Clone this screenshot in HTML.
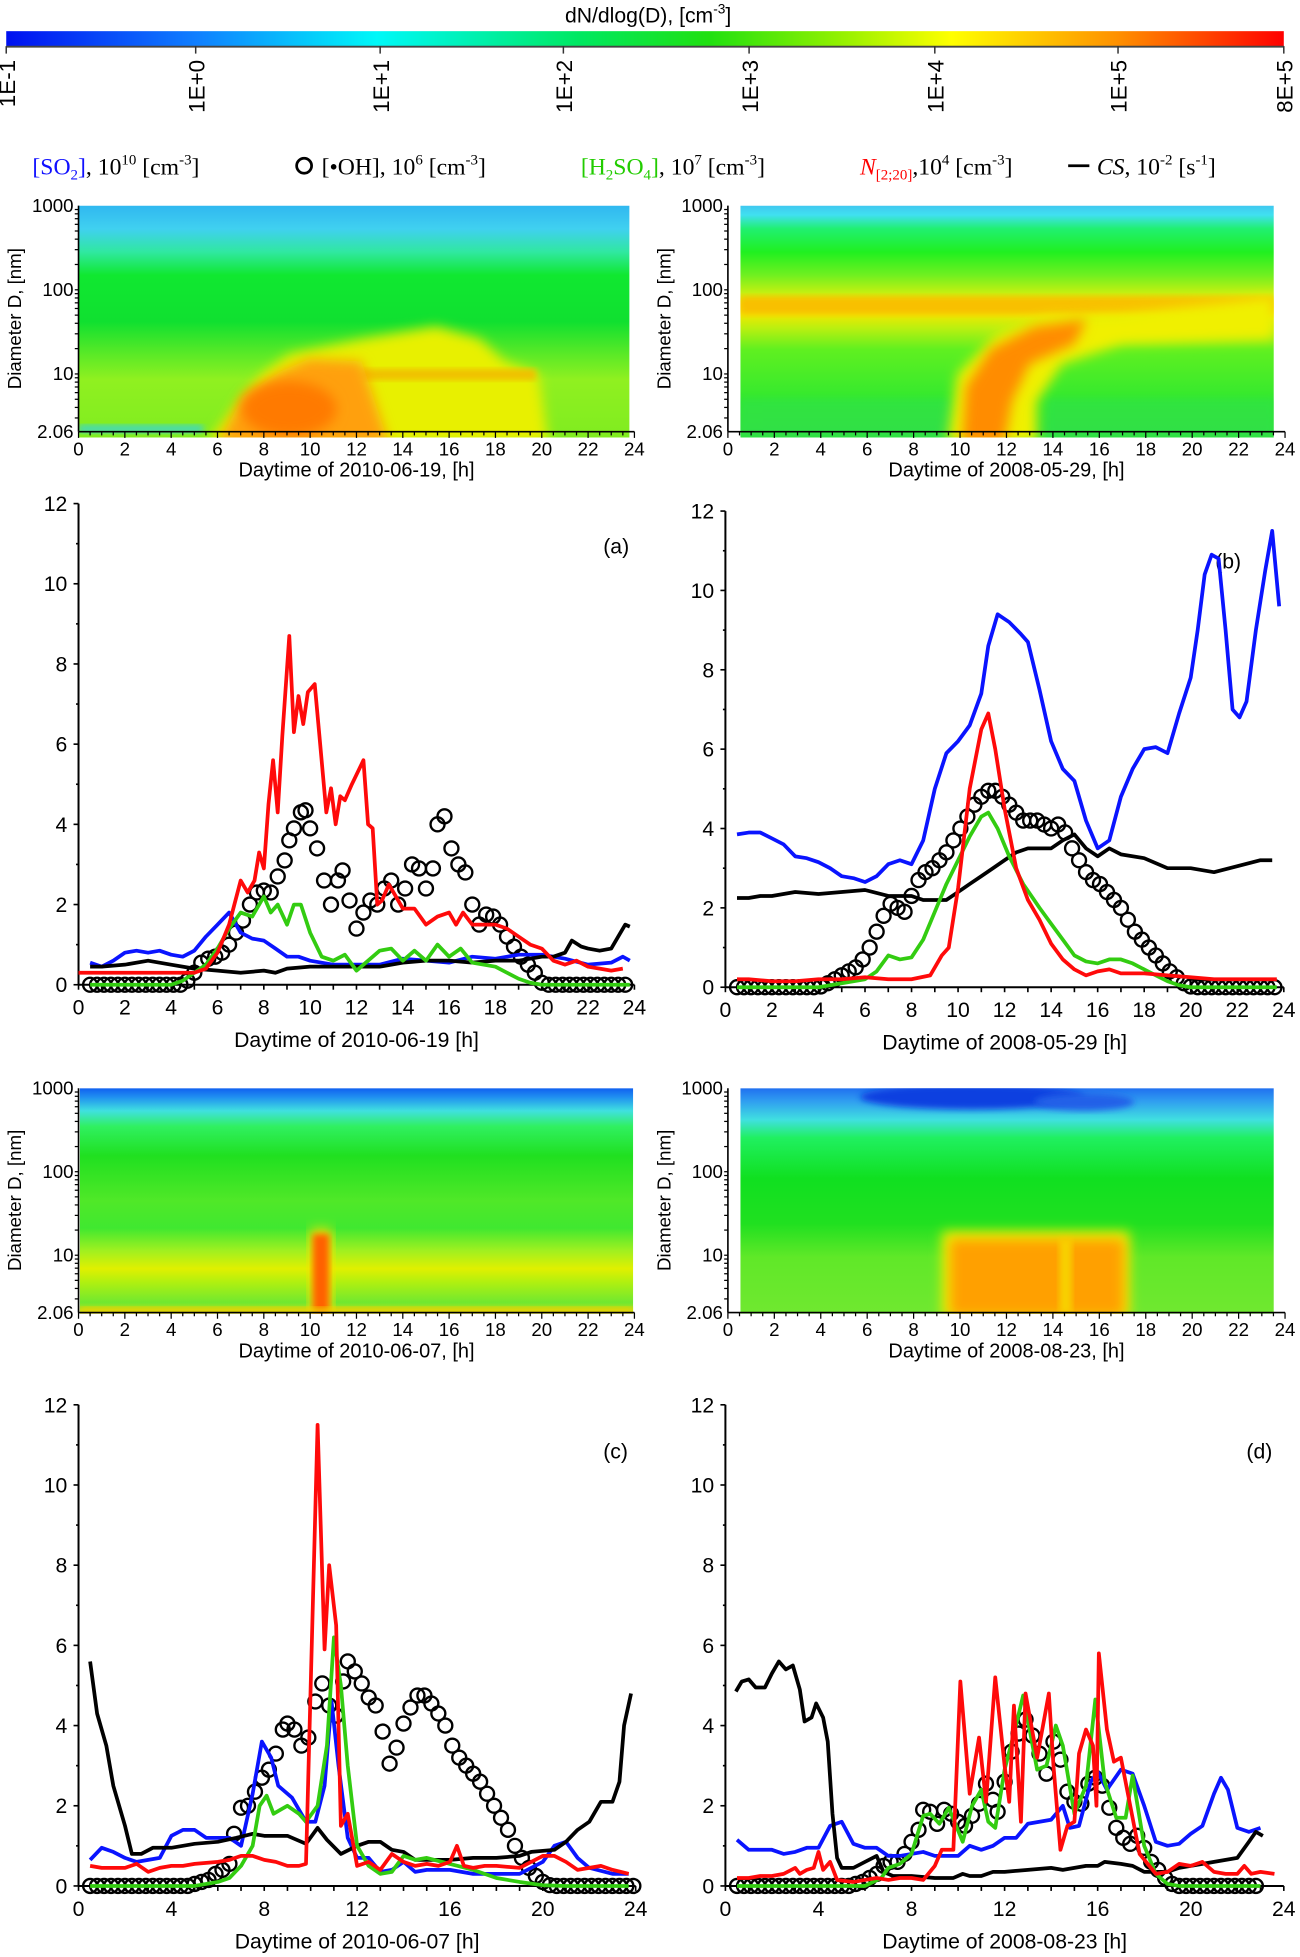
<!DOCTYPE html>
<html><head><meta charset="utf-8">
<style>
html,body{margin:0;padding:0;background:#fff;}
svg{display:block;}
text{font-family:"Liberation Sans",Arial,sans-serif;}
.serif{font-family:"Liberation Serif","Times New Roman",serif;}
</style></head>
<body>
<svg id="fig" width="1300" height="1957" viewBox="0 0 1043 1570" preserveAspectRatio="none" xmlns="http://www.w3.org/2000/svg">
<defs>
<linearGradient id="cbar" x1="0" x2="1" y1="0" y2="0">
<stop offset="0" stop-color="#0010f0"/><stop offset="0.15" stop-color="#1080ff"/><stop offset="0.29" stop-color="#00f8f8"/>
<stop offset="0.45" stop-color="#00e860"/><stop offset="0.55" stop-color="#20e010"/><stop offset="0.65" stop-color="#90f000"/>
<stop offset="0.74" stop-color="#ffff00"/><stop offset="0.87" stop-color="#ff9000"/><stop offset="1" stop-color="#ff0000"/>
</linearGradient>
<linearGradient id="g1" x1="0" x2="0" y1="0" y2="1">
<stop offset="0" stop-color="#30b8f0"/><stop offset="0.1" stop-color="#40d0f0"/><stop offset="0.2" stop-color="#30e8a0"/>
<stop offset="0.3" stop-color="#10e830"/><stop offset="0.5" stop-color="#10e030"/><stop offset="0.62" stop-color="#50e828"/>
<stop offset="0.75" stop-color="#90f020"/><stop offset="1" stop-color="#80ec20"/>
</linearGradient>
<linearGradient id="g2" x1="0" x2="0" y1="0" y2="1">
<stop offset="0" stop-color="#40c8f0"/><stop offset="0.04" stop-color="#40e0f0"/><stop offset="0.1" stop-color="#20f070"/>
<stop offset="0.2" stop-color="#20f020"/><stop offset="0.3" stop-color="#70f020"/><stop offset="0.38" stop-color="#c8f010"/>
<stop offset="0.43" stop-color="#f8d800"/><stop offset="0.47" stop-color="#f0e800"/><stop offset="0.53" stop-color="#b8f010"/>
<stop offset="0.62" stop-color="#60f020"/><stop offset="0.85" stop-color="#30e830"/><stop offset="1" stop-color="#30e040"/>
</linearGradient>
<linearGradient id="g3" x1="0" x2="0" y1="0" y2="1">
<stop offset="0" stop-color="#1060f0"/><stop offset="0.04" stop-color="#2090f0"/><stop offset="0.1" stop-color="#40e0e0"/>
<stop offset="0.17" stop-color="#30f060"/><stop offset="0.3" stop-color="#20e020"/><stop offset="0.5" stop-color="#50e828"/>
<stop offset="0.62" stop-color="#40e830"/><stop offset="0.72" stop-color="#a0f020"/><stop offset="0.8" stop-color="#e0f000"/>
<stop offset="0.86" stop-color="#b0f010"/><stop offset="0.95" stop-color="#70e830"/><stop offset="1" stop-color="#d0e010"/>
</linearGradient>
<linearGradient id="g4" x1="0" x2="0" y1="0" y2="1">
<stop offset="0" stop-color="#2070f0"/><stop offset="0.06" stop-color="#30a0f0"/><stop offset="0.14" stop-color="#40e0e0"/>
<stop offset="0.22" stop-color="#20f060"/><stop offset="0.4" stop-color="#10e020"/><stop offset="0.6" stop-color="#20e020"/>
<stop offset="0.75" stop-color="#60e828"/><stop offset="1" stop-color="#70e830"/>
</linearGradient>
<filter id="bl" x="-20%" y="-20%" width="140%" height="140%"><feGaussianBlur stdDeviation="5"/></filter>
<filter id="bl2" x="-20%" y="-20%" width="140%" height="140%"><feGaussianBlur stdDeviation="2.5"/></filter>
<clipPath id="c1"><rect x="63" y="165" width="442" height="186"/></clipPath>
<clipPath id="c2"><rect x="594" y="165" width="428" height="186"/></clipPath>
<clipPath id="c3"><rect x="64" y="873" width="444" height="181"/></clipPath>
<clipPath id="c4"><rect x="594" y="873" width="428" height="181"/></clipPath>
</defs>

<g>
<text x="520" y="18" font-size="17" text-anchor="middle">dN/dlog(D), [cm<tspan font-size="11" dy="-7">-3</tspan><tspan dy="7">]</tspan></text>
<rect x="5" y="25" width="1025" height="12" fill="url(#cbar)"/>
<line x1="5" y1="37.5" x2="1030" y2="37.5" stroke="#444" stroke-width="1.5"/>
</g>
<g id="cbticks"></g>

<g class="serif" font-size="19">
<text x="26" y="140" class="serif"><tspan fill="#1010ff">[SO<tspan font-size="12" dy="4">2</tspan><tspan dy="-4">]</tspan></tspan>, 10<tspan font-size="12" dy="-8">10</tspan><tspan dy="8"> [cm</tspan><tspan font-size="12" dy="-8">-3</tspan><tspan dy="8">]</tspan></text>
<circle cx="244" cy="133" r="6" fill="none" stroke="#000" stroke-width="2.2"/>
<text x="258" y="140" class="serif">[•OH], 10<tspan font-size="12" dy="-8">6</tspan><tspan dy="8"> [cm</tspan><tspan font-size="12" dy="-8">-3</tspan><tspan dy="8">]</tspan></text>
<text x="466" y="140" class="serif"><tspan fill="#22cc00">[H<tspan font-size="12" dy="4">2</tspan><tspan dy="-4">SO</tspan><tspan font-size="12" dy="4">4</tspan><tspan dy="-4">]</tspan></tspan>, 10<tspan font-size="12" dy="-8">7</tspan><tspan dy="8"> [cm</tspan><tspan font-size="12" dy="-8">-3</tspan><tspan dy="8">]</tspan></text>
<text x="690" y="140" class="serif"><tspan fill="#ff0000" font-style="italic">N</tspan><tspan fill="#ff0000" font-size="12" dy="4">[2;20]</tspan><tspan dy="-4">,10</tspan><tspan font-size="12" dy="-8">4</tspan><tspan dy="8"> [cm</tspan><tspan font-size="12" dy="-8">-3</tspan><tspan dy="8">]</tspan></text>
<line x1="857" y1="133" x2="874" y2="133" stroke="#000" stroke-width="2.2"/>
<text x="880" y="140" class="serif"><tspan font-style="italic">CS</tspan>, 10<tspan font-size="12" dy="-8">-2</tspan><tspan dy="8"> [s</tspan><tspan font-size="12" dy="-8">-1</tspan><tspan dy="8">]</tspan></text>
</g>

<g clip-path="url(#c1)">
<rect x="63" y="165" width="442" height="186" fill="url(#g1)"/>
<rect x="63" y="341" width="100" height="6" fill="#40d8c0" filter="url(#bl2)"/>
<path d="M165,356 L210,300 L232,284 L290,272 L350,262 L385,272 L405,290 L432,300 L440,356 Z" fill="#e8f000" filter="url(#bl)"/>
<path d="M290,296 L430,296 L430,305 L290,305Z" fill="#f0c000" filter="url(#bl2)"/>
<path d="M175,356 L195,318 L225,298 L248,288 L290,290 L300,320 L312,356 Z" fill="#ffa010" filter="url(#bl)"/>
<ellipse cx="232" cy="328" rx="38" ry="22" fill="#ff7a00" filter="url(#bl)"/>
</g>
<g clip-path="url(#c2)">
<rect x="594" y="165" width="428" height="186" fill="url(#g2)"/>
<rect x="594" y="320" width="170" height="30" fill="#30e050" opacity="0.5" filter="url(#bl2)"/>
<rect x="840" y="320" width="182" height="30" fill="#30e050" opacity="0.5" filter="url(#bl2)"/>
<rect x="594" y="238" width="428" height="14" fill="#f8c000" filter="url(#bl2)"/>
<path d="M760,356 L768,300 L800,268 L840,254 L900,252 L1022,238 L1022,272 L900,276 L852,292 L832,322 L832,356 Z" fill="#f0f000" filter="url(#bl)"/>
<path d="M772,356 L775,310 L795,280 L830,262 L872,256 L862,276 L826,292 L812,322 L806,356 Z" fill="#ff8c00" filter="url(#bl)"/>
</g>
<g clip-path="url(#c3)">
<rect x="64" y="873" width="444" height="181" fill="url(#g3)"/>
<rect x="249" y="986" width="17" height="72" fill="#f8e000" filter="url(#bl)"/>
<rect x="251" y="990" width="13" height="66" fill="#ff6000" filter="url(#bl2)"/>
<rect x="64" y="1049" width="444" height="5" fill="#f0d000" filter="url(#bl2)"/>
</g>
<g clip-path="url(#c4)">
<rect x="594" y="873" width="428" height="181" fill="url(#g4)"/>
<ellipse cx="780" cy="880" rx="90" ry="10" fill="#1040e0" filter="url(#bl2)"/>
<ellipse cx="870" cy="884" rx="40" ry="7" fill="#2060e8" filter="url(#bl2)"/>
<rect x="756" y="988" width="150" height="70" fill="#f0f000" filter="url(#bl)"/>
<rect x="762" y="994" width="140" height="62" fill="#ffa000" filter="url(#bl)"/>
<rect x="850" y="994" width="10" height="60" fill="#f8d000" filter="url(#bl2)"/>
</g>
<g id="hmaxes"></g>
<g id="charts"></g>
</svg>
<script>
const cbLabels = ["1E-1","1E+0","1E+1","1E+2","1E+3","1E+4","1E+5","8E+5"];
const cbX = [5,157,305,452,601,750,897,1030];
const hourTicksAB = [0,2,4,6,8,10,12,14,16,18,20,22,24];
const hourTicksCD = [0,4,8,12,16,20,24];
const yTicks = [0,2,4,6,8,10,12];
const diamTicks = [1000,100,10,2.06];

const aSO2 = [[0.5,0.55],[1,0.45],[1.5,0.6],[2,0.8],[2.5,0.85],[3,0.8],[3.5,0.85],[4,0.75],[4.5,0.7],[5,0.85],[5.5,1.2],[6,1.5],[6.5,1.8],[7,1.3],[7.5,1.15],[8,1.1],[8.5,0.9],[9,0.7],[9.5,0.7],[10,0.6],[11,0.5],[12,0.5],[13,0.5],[14,0.65],[15,0.6],[16,0.55],[17,0.7],[18,0.65],[19,0.75],[20,0.75],[21,0.65],[22,0.5],[23,0.55],[23.5,0.7],[23.8,0.6]];
const aN = [[0,0.3],[1,0.3],[2,0.3],[3,0.3],[4,0.3],[5,0.3],[5.5,0.4],[6,0.8],[6.5,1.5],[7,2.6],[7.3,2.3],[7.6,2.6],[7.8,3.3],[8,2.9],[8.2,4.5],[8.4,5.6],[8.6,4.3],[8.8,6.2],[9.1,8.7],[9.3,6.3],[9.5,7.2],[9.7,6.5],[9.9,7.3],[10.2,7.5],[10.4,6.2],[10.7,4.3],[10.9,4.9],[11.1,4.0],[11.3,4.7],[11.5,4.6],[11.8,5.0],[12.3,5.6],[12.5,4.0],[12.7,3.9],[12.9,2.0],[13.1,2.1],[13.4,2.5],[13.7,2.2],[14,1.9],[14.5,1.9],[15,1.5],[15.5,1.7],[16,1.8],[16.3,1.5],[16.6,1.8],[17,1.5],[17.5,1.5],[18,1.5],[18.5,1.4],[19,1.2],[19.5,1.0],[20,0.9],[20.5,0.6],[21,0.5],[21.5,0.6],[22,0.45],[22.5,0.4],[23,0.35],[23.5,0.4]];
const aH2SO4 = [[0.5,0],[1,0],[2,0],[3,0],[4,0],[4.5,0.1],[5,0.3],[5.5,0.5],[6,0.9],[6.5,1.4],[7,1.8],[7.5,1.7],[8,2.2],[8.3,1.8],[8.6,2.0],[9,1.5],[9.3,2.0],[9.6,2.0],[10,1.3],[10.5,0.7],[11,0.6],[11.5,0.75],[12,0.35],[12.5,0.6],[13,0.85],[13.5,0.9],[14,0.6],[14.5,0.85],[15,0.6],[15.5,1.0],[16,0.7],[16.5,0.9],[17,0.55],[17.5,0.5],[18,0.45],[18.5,0.3],[19,0.15],[19.5,0.05],[20,0],[21,0],[22,0],[23,0],[23.8,0]];
const aCS = [[0.5,0.45],[1,0.45],[2,0.5],[3,0.6],[4,0.5],[5,0.4],[6,0.35],[7,0.3],[8,0.35],[8.5,0.3],[9,0.4],[10,0.45],[11,0.45],[12,0.45],[13,0.45],[14,0.55],[15,0.6],[16,0.6],[17,0.55],[18,0.6],[19,0.6],[19.5,0.65],[20,0.7],[20.5,0.7],[21,0.8],[21.3,1.1],[21.7,0.95],[22,0.9],[22.5,0.85],[23,0.9],[23.3,1.2],[23.6,1.5],[23.8,1.45]];
const aOH = [[0.5,0],[0.8,0],[1.1,0],[1.4,0],[1.7,0],[2.0,0],[2.3,0],[2.6,0],[2.9,0],[3.2,0],[3.5,0],[3.8,0],[4.1,0],[4.4,0],[4.7,0.1],[5.0,0.3],[5.3,0.55],[5.6,0.65],[5.9,0.7],[6.2,0.8],[6.5,1.0],[6.8,1.3],[7.1,1.6],[7.4,2.0],[7.7,2.3],[8.0,2.35],[8.3,2.3],[8.6,2.7],[8.9,3.1],[9.1,3.6],[9.3,3.9],[9.6,4.3],[9.8,4.35],[10.0,3.9],[10.3,3.4],[10.6,2.6],[10.9,2.0],[11.2,2.6],[11.4,2.85],[11.7,2.1],[12.0,1.4],[12.3,1.8],[12.6,2.1],[12.9,2.0],[13.2,2.4],[13.5,2.6],[13.8,2.0],[14.1,2.4],[14.4,3.0],[14.7,2.9],[15.0,2.4],[15.3,2.9],[15.5,4.0],[15.8,4.2],[16.1,3.4],[16.4,3.0],[16.7,2.8],[17.0,2.0],[17.3,1.5],[17.6,1.75],[17.9,1.7],[18.2,1.5],[18.5,1.2],[18.8,0.95],[19.1,0.7],[19.4,0.5],[19.7,0.3],[20.0,0.05],[20.3,0],[20.6,0],[20.9,0],[21.2,0],[21.5,0],[21.8,0],[22.1,0],[22.4,0],[22.7,0],[23.0,0],[23.3,0],[23.6,0]];

const bSO2 = [[0.5,3.85],[1,3.9],[1.5,3.9],[2,3.75],[2.5,3.6],[3,3.3],[3.5,3.25],[4,3.15],[4.5,3.0],[5,2.8],[5.5,2.75],[6,2.65],[6.5,2.8],[7,3.1],[7.5,3.2],[8,3.1],[8.5,3.7],[9,5.0],[9.5,5.9],[10,6.2],[10.5,6.6],[11,7.4],[11.3,8.6],[11.7,9.4],[12.2,9.2],[12.7,8.9],[13,8.7],[13.5,7.5],[14,6.2],[14.5,5.5],[15,5.2],[15.5,4.2],[16,3.5],[16.5,3.7],[17,4.8],[17.5,5.5],[18,6.0],[18.5,6.05],[19,5.9],[19.5,6.9],[20,7.8],[20.3,9.0],[20.6,10.4],[20.9,10.9],[21.2,10.8],[21.5,9.0],[21.8,7.0],[22.1,6.8],[22.4,7.2],[22.8,9.0],[23.2,10.5],[23.5,11.5],[23.8,9.6]];
const bN = [[0.5,0.2],[1,0.2],[2,0.15],[3,0.15],[4,0.2],[5,0.2],[6,0.25],[7,0.2],[8,0.2],[8.8,0.3],[9.3,0.8],[9.6,1.0],[10,2.5],[10.5,5.0],[11,6.5],[11.3,6.9],[11.6,6.0],[12,4.5],[12.5,3.0],[13,2.2],[13.5,1.7],[14,1.1],[14.5,0.7],[15,0.45],[15.5,0.3],[16,0.4],[16.5,0.45],[17,0.35],[18,0.35],[19,0.3],[20,0.25],[21,0.2],[22,0.2],[23,0.2],[23.7,0.2]];
const bH2SO4 = [[0.5,0],[4,0],[5,0.1],[6,0.2],[6.5,0.4],[7,0.8],[7.5,0.7],[8,0.75],[8.5,1.2],[9,1.9],[9.5,2.6],[10,3.2],[10.5,3.8],[11,4.3],[11.3,4.4],[11.7,4.0],[12.2,3.3],[12.8,2.6],[13.5,2.0],[14,1.6],[14.5,1.2],[15,0.8],[15.5,0.65],[16,0.6],[16.5,0.7],[17,0.7],[17.5,0.6],[18,0.45],[18.5,0.3],[19,0.15],[19.5,0.05],[20,0],[23.7,0]];
const bCS = [[0.5,2.25],[1,2.25],[1.5,2.3],[2,2.3],[3,2.4],[4,2.35],[5,2.4],[6,2.45],[7,2.3],[8,2.3],[8.5,2.2],[9,2.2],[9.5,2.2],[10,2.4],[10.5,2.6],[11,2.8],[11.5,3.0],[12,3.2],[12.5,3.4],[13,3.5],[13.5,3.5],[14,3.5],[14.5,3.7],[15,3.85],[15.5,3.5],[16,3.3],[16.5,3.5],[17,3.35],[18,3.25],[19,3.0],[20,3.0],[21,2.9],[22,3.05],[23,3.2],[23.5,3.2]];
const bOH = [[0.5,0],[0.8,0],[1.1,0],[1.4,0],[1.7,0],[2.0,0],[2.3,0],[2.6,0],[2.9,0],[3.2,0],[3.5,0],[3.8,0],[4.1,0.02],[4.4,0.1],[4.7,0.2],[5.0,0.3],[5.3,0.4],[5.6,0.5],[5.9,0.7],[6.2,1.0],[6.5,1.4],[6.8,1.8],[7.1,2.1],[7.4,2.0],[7.7,1.9],[8.0,2.3],[8.3,2.7],[8.6,2.9],[8.9,3.0],[9.2,3.2],[9.5,3.4],[9.8,3.7],[10.1,4.0],[10.4,4.3],[10.7,4.6],[11.0,4.8],[11.3,4.95],[11.6,4.95],[11.9,4.8],[12.2,4.6],[12.5,4.4],[12.8,4.2],[13.1,4.2],[13.4,4.2],[13.7,4.1],[14.0,4.0],[14.3,4.1],[14.6,3.9],[14.9,3.5],[15.2,3.2],[15.5,2.9],[15.8,2.7],[16.1,2.6],[16.4,2.4],[16.7,2.2],[17.0,2.0],[17.3,1.7],[17.6,1.4],[17.9,1.2],[18.2,1.0],[18.5,0.8],[18.8,0.6],[19.1,0.4],[19.4,0.25],[19.7,0.1],[20.0,0.02],[20.3,0],[20.6,0],[20.9,0],[21.2,0],[21.5,0],[21.8,0],[22.1,0],[22.4,0],[22.7,0],[23.0,0],[23.3,0],[23.6,0]];

const cSO2 = [[0.5,0.65],[1,0.95],[1.5,0.85],[2,0.7],[2.5,0.6],[3,0.65],[3.5,0.7],[4,1.25],[4.5,1.4],[5,1.4],[5.5,1.2],[6,1.2],[6.5,1.2],[7,1.0],[7.5,2.3],[7.9,3.6],[8.3,3.2],[8.6,2.5],[9.2,2.2],[9.8,1.6],[10.2,1.6],[10.6,2.5],[10.9,4.6],[11.2,3.0],[11.6,1.2],[12,0.7],[12.5,0.7],[13,0.35],[13.5,0.4],[14,0.6],[14.5,0.35],[15,0.4],[16,0.4],[16.5,0.35],[17,0.3],[18,0.3],[19,0.3],[19.5,0.45],[20,0.6],[20.5,1.0],[21,1.1],[21.5,0.7],[22,0.45],[23,0.3],[23.7,0.3]];
const cN = [[0.5,0.5],[1,0.45],[1.5,0.45],[2,0.45],[2.5,0.55],[3,0.35],[3.5,0.45],[4,0.5],[4.5,0.5],[5,0.55],[6,0.6],[6.5,0.65],[7,0.75],[7.5,0.75],[8,0.65],[8.5,0.6],[9,0.5],[9.5,0.5],[9.8,0.55],[10.3,11.5],[10.6,5.9],[10.8,8.0],[11.1,6.5],[11.3,1.5],[11.6,1.8],[12,0.5],[12.5,0.6],[13,0.4],[13.5,0.8],[14,0.6],[14.5,0.5],[15,0.55],[15.5,0.5],[16,0.6],[16.3,1.0],[16.6,0.5],[17,0.45],[17.5,0.5],[18,0.5],[19,0.45],[19.5,0.6],[20,0.75],[20.5,0.75],[21,0.6],[21.5,0.4],[22,0.45],[22.5,0.5],[23,0.4],[23.7,0.3]];
const cH2SO4 = [[0.5,0],[5,0],[5.5,0.05],[6,0.1],[6.5,0.2],[7,0.5],[7.5,1.0],[7.8,2.0],[8.1,2.25],[8.4,1.8],[8.7,1.9],[9,2.0],[9.5,1.8],[9.8,1.6],[10.3,2.0],[10.7,3.5],[11,6.2],[11.3,5.0],[11.6,3.0],[12,1.0],[12.5,0.5],[13,0.3],[13.5,0.35],[14,0.75],[14.5,0.65],[15,0.7],[16,0.55],[17,0.4],[18,0.2],[19,0.1],[20,0.02],[21,0],[23.7,0]];
const cCS = [[0.5,5.6],[0.8,4.3],[1.2,3.5],[1.5,2.5],[2,1.5],[2.3,0.8],[2.7,0.8],[3.2,0.95],[4,0.95],[4.5,1.0],[5,1.05],[6,1.1],[6.8,1.2],[7.5,1.3],[8,1.25],[9,1.25],[9.8,1.05],[10.3,1.45],[10.7,1.15],[11.3,0.8],[12,1.0],[12.5,1.1],[13,1.1],[13.5,0.9],[14,0.85],[14.5,0.65],[16,0.65],[17,0.7],[18,0.7],[19,0.75],[19.5,0.85],[20.5,0.9],[21,1.1],[21.5,1.4],[22,1.6],[22.5,2.1],[23,2.1],[23.3,2.6],[23.5,4.0],[23.8,4.8]];
const cOH = [[0.5,0],[0.8,0],[1.1,0],[1.4,0],[1.7,0],[2.0,0],[2.3,0],[2.6,0],[2.9,0],[3.2,0],[3.5,0],[3.8,0],[4.1,0],[4.4,0],[4.7,0],[5.0,0.05],[5.3,0.1],[5.6,0.15],[5.9,0.3],[6.2,0.4],[6.5,0.55],[6.7,1.3],[7.0,1.95],[7.3,2.0],[7.6,2.35],[7.9,2.7],[8.2,2.9],[8.5,3.3],[8.8,3.9],[9.0,4.05],[9.3,3.9],[9.6,3.5],[9.9,3.7],[10.2,4.6],[10.5,5.05],[10.8,4.5],[11.1,4.25],[11.4,5.1],[11.6,5.6],[11.9,5.35],[12.2,5.05],[12.5,4.7],[12.8,4.5],[13.1,3.85],[13.4,3.05],[13.7,3.45],[14.0,4.05],[14.3,4.45],[14.6,4.75],[14.9,4.75],[15.2,4.55],[15.5,4.3],[15.8,4.0],[16.1,3.5],[16.4,3.2],[16.7,3.0],[17.0,2.8],[17.3,2.6],[17.6,2.3],[17.9,2.0],[18.2,1.7],[18.5,1.4],[18.8,1.0],[19.1,0.7],[19.4,0.45],[19.7,0.25],[20.0,0.1],[20.3,0.02],[20.6,0],[20.9,0],[21.2,0],[21.5,0],[21.8,0],[22.1,0],[22.4,0],[22.7,0],[23.0,0],[23.3,0],[23.6,0],[23.9,0]];

const dSO2 = [[0.5,1.15],[1,0.9],[2,0.9],[2.5,0.8],[3,0.85],[3.5,0.95],[4,0.95],[4.5,1.5],[5,1.6],[5.5,1.05],[6,0.95],[6.5,0.95],[7,0.75],[7.5,0.75],[8,0.8],[8.5,0.85],[9,0.75],[9.5,0.75],[10,0.75],[10.5,1.0],[11,0.9],[11.5,1.0],[12,1.2],[12.5,1.2],[13,1.55],[13.5,1.6],[14,1.65],[14.5,2.0],[14.8,1.45],[15.2,1.5],[15.7,2.6],[16,2.85],[16.4,2.4],[17,2.9],[17.5,2.8],[18,2.0],[18.5,1.1],[19,1.0],[19.5,1.05],[20,1.3],[20.5,1.5],[21,2.3],[21.3,2.7],[21.6,2.4],[22,1.45],[22.5,1.35],[23,1.45]];
const dN = [[0.5,0.2],[1,0.2],[1.5,0.25],[2,0.25],[2.5,0.3],[3,0.45],[3.2,0.3],[3.5,0.4],[3.8,0.45],[4,0.85],[4.2,0.4],[4.5,0.6],[4.8,0.15],[5.5,0.1],[6,0.15],[6.5,0.2],[7,0.15],[7.5,0.2],[8,0.2],[8.5,0.15],[9,0.5],[9.3,0.9],[9.8,0.9],[10.1,5.1],[10.5,2.3],[10.9,3.7],[11.2,2.1],[11.6,5.2],[12,3.0],[12.2,2.1],[12.4,4.5],[12.7,1.6],[12.9,4.8],[13.4,3.2],[13.9,4.8],[14.1,3.0],[14.4,0.9],[14.7,1.5],[15.0,1.6],[15.2,3.3],[15.5,3.9],[15.8,3.5],[15.95,2.0],[16.05,5.8],[16.4,3.9],[16.7,3.1],[17,3.2],[17.4,2.0],[17.8,0.8],[18.5,0.3],[19,0.35],[19.5,0.55],[20,0.5],[20.5,0.6],[21,0.35],[21.5,0.3],[22,0.3],[22.3,0.5],[22.6,0.3],[23,0.35],[23.6,0.3]];
const dH2SO4 = [[0.5,0],[6,0],[6.7,0.2],[7,0.45],[7.5,0.55],[8,0.8],[8.5,1.75],[8.8,1.8],[9.2,1.55],[9.6,1.95],[10.2,1.1],[10.6,2.0],[11,2.4],[11.3,1.6],[11.6,1.45],[12,2.9],[12.4,3.8],[12.8,4.75],[13.4,2.9],[13.8,3.0],[14.2,4.0],[14.5,3.5],[15,1.8],[15.5,2.5],[15.9,4.65],[16.3,2.6],[16.8,1.7],[17.2,1.7],[17.5,2.75],[18,1.0],[18.5,0.3],[19,0.05],[19.5,0],[23,0]];
const dCS = [[0.45,4.85],[0.7,5.1],[1,5.15],[1.3,4.95],[1.7,4.95],[2,5.3],[2.3,5.6],[2.6,5.4],[2.9,5.5],[3.2,4.9],[3.4,4.1],[3.7,4.2],[3.9,4.55],[4.2,4.2],[4.4,3.6],[4.6,1.8],[4.8,0.7],[5,0.45],[5.5,0.45],[6,0.6],[6.5,0.75],[6.8,0.35],[7.2,0.25],[8,0.25],[9,0.2],[9.8,0.2],[10.2,0.3],[10.5,0.25],[11,0.25],[11.5,0.35],[12,0.35],[13,0.4],[14,0.45],[14.5,0.4],[15,0.45],[15.5,0.5],[16,0.5],[16.3,0.6],[17,0.55],[17.5,0.5],[18,0.35],[19,0.35],[19.5,0.45],[20,0.5],[21,0.6],[22,0.7],[22.5,1.1],[22.8,1.35],[23.1,1.25]];
const dOH = [[0.5,0],[0.8,0],[1.1,0],[1.4,0],[1.7,0],[2.0,0],[2.3,0],[2.6,0],[2.9,0],[3.2,0],[3.5,0],[3.8,0],[4.1,0],[4.4,0],[4.7,0],[5.0,0],[5.3,0],[5.6,0.05],[5.9,0.1],[6.2,0.2],[6.5,0.3],[6.8,0.5],[7.1,0.6],[7.4,0.6],[7.7,0.8],[8.0,1.1],[8.3,1.4],[8.5,1.9],[8.8,1.85],[9.1,1.55],[9.4,1.9],[9.7,1.8],[10.0,1.6],[10.3,1.5],[10.6,1.75],[10.9,2.05],[11.2,2.55],[11.5,2.15],[11.7,1.85],[12.0,2.6],[12.3,3.35],[12.6,3.8],[12.9,4.15],[13.2,3.75],[13.5,3.3],[13.8,2.8],[14.1,3.6],[14.4,3.15],[14.7,2.35],[15.0,2.1],[15.3,2.05],[15.6,2.55],[15.9,2.7],[16.2,2.5],[16.5,1.95],[16.8,1.45],[17.1,1.2],[17.4,1.05],[17.7,1.25],[18.0,0.95],[18.3,0.6],[18.6,0.4],[18.9,0.2],[19.2,0.05],[19.5,0],[19.8,0],[20.1,0],[20.4,0],[20.7,0],[21.0,0],[21.3,0],[21.6,0],[21.9,0],[22.2,0],[22.5,0],[22.8,0]];

const NS = "http://www.w3.org/2000/svg";
function mk(tag, attrs, parent){
  const e = document.createElementNS(NS, tag);
  for (const k in attrs) e.setAttribute(k, attrs[k]);
  parent.appendChild(e);
  return e;
}

const cbG = document.getElementById('cbticks');
cbLabels.forEach((lab, i) => {
  const x = cbX[i];
  const tk = mk('line', {x1:x, y1:37, x2:x, y2:43, stroke:'#333', 'stroke-width':1.2}, cbG);
  
  
  const t = mk('text', {transform:`translate(${x+7},48) rotate(-90)`, 'text-anchor':'end', 'font-size':18}, cbG);
  
  
  t.textContent = lab;
});

const hmG = document.getElementById('hmaxes');
function hmAxes(cfg){
  const g = mk('g', {}, hmG);
  
  
  const xs = t => cfg.x0 + t * (cfg.x24 - cfg.x0) / 24;
  const yd = d => cfg.yTop + (3 - Math.log10(d)) * cfg.dec;
  const yb = yd(2.06);
  mk('line', {x1:cfg.x0, y1:yb, x2:cfg.x24, y2:yb, stroke:'#000', 'stroke-width':1.3}, g);
  mk('line', {x1:cfg.x0, y1:cfg.yTop, x2:cfg.x0, y2:yb, stroke:'#000', 'stroke-width':1.3}, g);
  for (let h = 0; h <= 24; h += 0.5) {
    const maj = (h % 2 === 0);
    mk('line', {x1:xs(h), y1:yb, x2:xs(h), y2:yb + (maj ? 5 : 3), stroke:'#000', 'stroke-width':1}, g);
  }
  hourTicksAB.forEach(h => {
    const t = mk('text', {x:xs(h), y:yb + 19, 'text-anchor':'middle', 'font-size':15}, g);
    
    
    t.textContent = h;
  });
  for (let dec = 1; dec <= 100; dec *= 10) {
    for (let m = 1; m < 10; m++) {
      const d = dec * m; if (d < 2.06) continue;
      mk('line', {x1:cfg.x0 - 3, y1:yd(d), x2:cfg.x0, y2:yd(d), stroke:'#000', 'stroke-width':1}, g);
    }
  }
  diamTicks.forEach(d => {
    const t = mk('text', {x:cfg.x0 - 4, y:yd(d) + 5, 'text-anchor':'end', 'font-size':15}, g);
    
    
    t.textContent = d;
  });
  const yt = mk('text', {transform:`translate(${cfg.x0 - 46},${(cfg.yTop + yb) / 2}) rotate(-90)`, 'text-anchor':'middle', 'font-size':15}, g);
  
  
  yt.textContent = 'Diameter D, [nm]';
  const xt = mk('text', {x:(cfg.x0 + cfg.x24) / 2, y:yb + 36, 'text-anchor':'middle', 'font-size':16}, g);
  
  
  xt.textContent = cfg.title;
}
hmAxes({name:'heatmap-axes-a', x0:63, x24:509, yTop:165, dec:67.5, title:'Daytime of 2010-06-19, [h]'});
hmAxes({name:'heatmap-axes-b', x0:584, x24:1031, yTop:165, dec:67.5, title:'Daytime of 2008-05-29, [h]'});
hmAxes({name:'heatmap-axes-c', x0:63, x24:509, yTop:873, dec:67, title:'Daytime of 2010-06-07, [h]'});
hmAxes({name:'heatmap-axes-d', x0:584, x24:1031, yTop:873, dec:67, title:'Daytime of 2008-08-23, [h]'});

const chG = document.getElementById('charts');
function chart(cfg){
  const g = mk('g', {}, chG);
  
  
  const xs = t => cfg.x0 + t * (cfg.x24 - cfg.x0) / 24;
  const ys = v => cfg.y0 - v * (cfg.y0 - cfg.y12) / 12;
  mk('line', {x1:cfg.x0, y1:cfg.y0, x2:cfg.x24, y2:cfg.y0, stroke:'#000', 'stroke-width':1.6}, g);
  mk('line', {x1:cfg.x0, y1:cfg.y0, x2:cfg.x0, y2:cfg.y12, stroke:'#000', 'stroke-width':1.6}, g);
  for (let v = 0; v <= 12; v++) mk('line', {x1:cfg.x0 - (v % 2 ? 2 : 4), y1:ys(v), x2:cfg.x0, y2:ys(v), stroke:'#000', 'stroke-width':1.3}, g);
  for (let h = 0; h <= 24; h++) mk('line', {x1:xs(h), y1:cfg.y0, x2:xs(h), y2:cfg.y0 + 4, stroke:'#000', 'stroke-width':1.3}, g);
  yTicks.forEach(v => {
    const t = mk('text', {x:cfg.x0 - 9, y:ys(v) + 6, 'text-anchor':'end', 'font-size':17}, g);
    
    
    t.textContent = v;
  });
  cfg.ticks.forEach(h => {
    const t = mk('text', {x:xs(h), y:cfg.y0 + 24, 'text-anchor':'middle', 'font-size':17}, g);
    
    
    t.textContent = h;
  });
  const xt = mk('text', {x:(cfg.x0 + cfg.x24) / 2, y:cfg.y0 + 50, 'text-anchor':'middle', 'font-size':17}, g);
  
  
  xt.textContent = cfg.title;
  const pl = mk('text', {x:cfg.lx, y:cfg.ly, 'font-size':17}, g);
  
  
  pl.textContent = cfg.label;
  const og = mk('g', {}, g);
  
  
  cfg.oh.forEach(p => {
    const c = mk('circle', {cx:xs(p[0]), cy:ys(p[1]), r:5.6, fill:'none', stroke:'#000', 'stroke-width':1.9}, og);
    
    
  });
  const line = (data, color, name) => {
    const p = mk('polyline', {points:data.map(q => xs(q[0]).toFixed(1) + ',' + ys(q[1]).toFixed(1)).join(' '), fill:'none', stroke:color, 'stroke-width':3, 'stroke-linejoin':'round'}, g);
    
    
  };
  line(cfg.so2, '#0a14ff', 'so2-line');
  line(cfg.cs, '#000000', 'cs-line');
  line(cfg.h2so4, '#33cc11', 'h2so4-line');
  line(cfg.n, '#ff0a0a', 'n-2-20-line');
}
chart({name:'chart-a', x0:63, x24:509, y0:790, y12:404, ticks:hourTicksAB, title:'Daytime of 2010-06-19 [h]', label:'(a)', lx:484, ly:444, so2:aSO2, n:aN, h2so4:aH2SO4, cs:aCS, oh:aOH});
chart({name:'chart-b', x0:582, x24:1030, y0:792, y12:410, ticks:hourTicksAB, title:'Daytime of 2008-05-29 [h]', label:'(b)', lx:975, ly:456, so2:bSO2, n:bN, h2so4:bH2SO4, cs:bCS, oh:bOH});
chart({name:'chart-c', x0:63, x24:510, y0:1513, y12:1127, ticks:hourTicksCD, title:'Daytime of 2010-06-07 [h]', label:'(c)', lx:484, ly:1170, so2:cSO2, n:cN, h2so4:cH2SO4, cs:cCS, oh:cOH});
chart({name:'chart-d', x0:582, x24:1030, y0:1513, y12:1127, ticks:hourTicksCD, title:'Daytime of 2008-08-23 [h]', label:'(d)', lx:1000, ly:1170, so2:dSO2, n:dN, h2so4:dH2SO4, cs:dCS, oh:dOH});
</script>
</body></html>
